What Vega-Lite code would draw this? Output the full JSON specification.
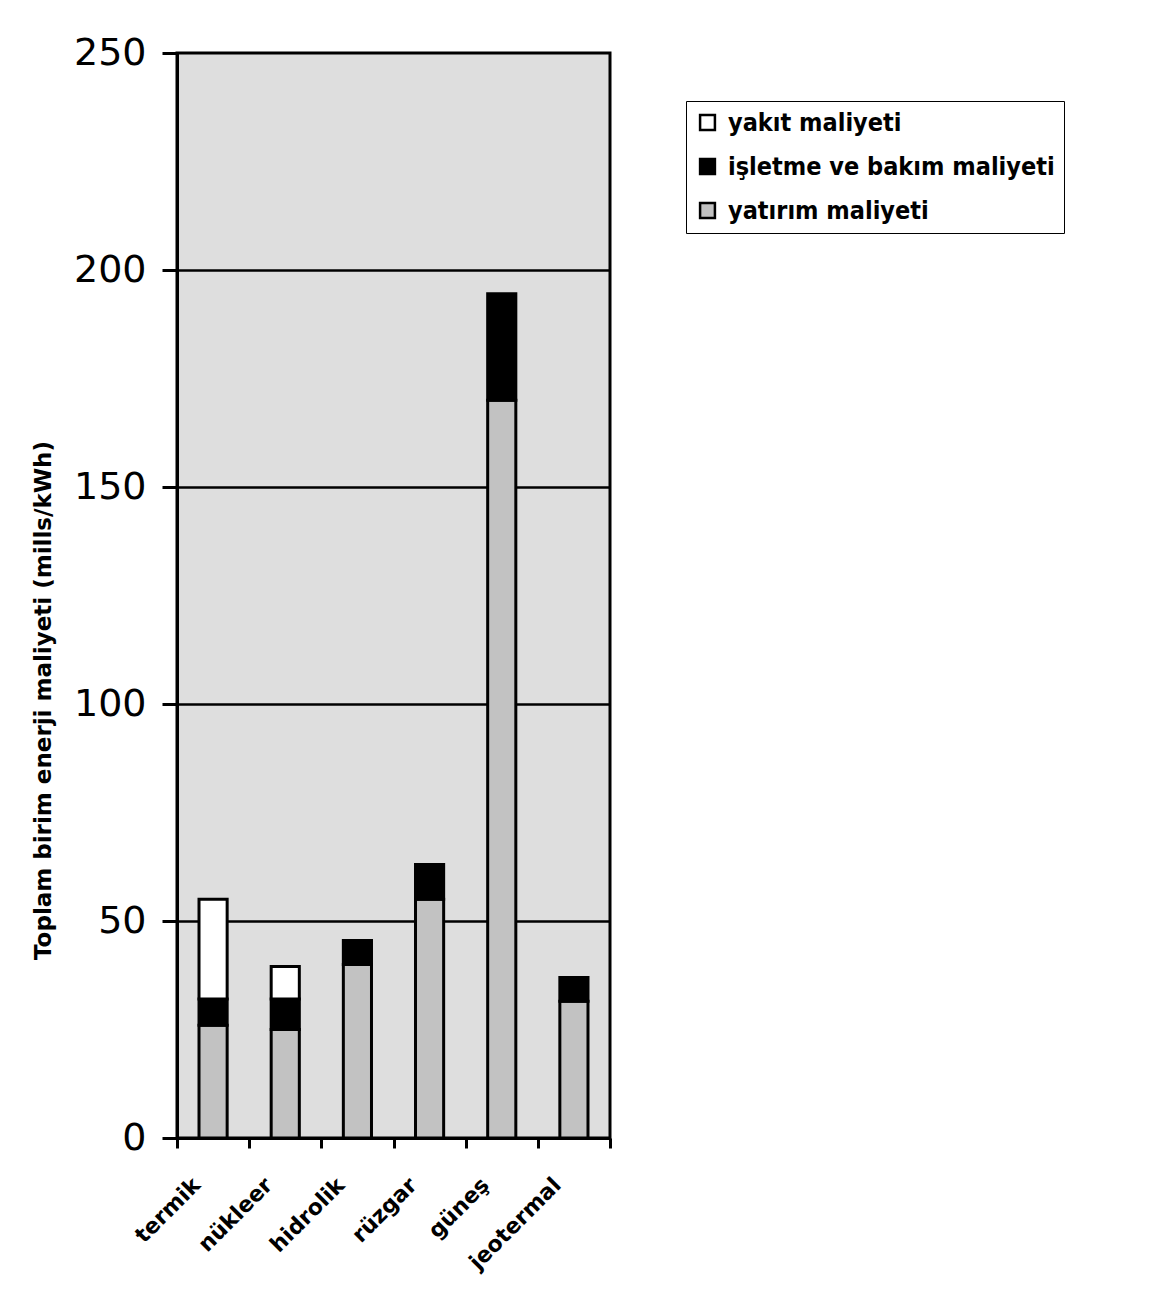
{
  "$schema": "https://vega.github.io/schema/vega-lite/v6.json",
  "autosize": {"type": "none"},
  "padding": {"left": 177, "top": 53, "right": 539, "bottom": 161},
  "width": 433,
  "height": 1085,
  "background": "white",
  "data": {
    "values": [
      {"kaynak": "termik", "kalem": "yatırım maliyeti", "katman": 1, "deger": 26},
      {"kaynak": "termik", "kalem": "işletme ve bakım maliyeti", "katman": 2, "deger": 6},
      {"kaynak": "termik", "kalem": "yakıt maliyeti", "katman": 3, "deger": 23},
      {"kaynak": "nükleer", "kalem": "yatırım maliyeti", "katman": 1, "deger": 25},
      {"kaynak": "nükleer", "kalem": "işletme ve bakım maliyeti", "katman": 2, "deger": 7},
      {"kaynak": "nükleer", "kalem": "yakıt maliyeti", "katman": 3, "deger": 7.5},
      {"kaynak": "hidrolik", "kalem": "yatırım maliyeti", "katman": 1, "deger": 40},
      {"kaynak": "hidrolik", "kalem": "işletme ve bakım maliyeti", "katman": 2, "deger": 5.5},
      {"kaynak": "rüzgar", "kalem": "yatırım maliyeti", "katman": 1, "deger": 55},
      {"kaynak": "rüzgar", "kalem": "işletme ve bakım maliyeti", "katman": 2, "deger": 8},
      {"kaynak": "güneş", "kalem": "yatırım maliyeti", "katman": 1, "deger": 170},
      {"kaynak": "güneş", "kalem": "işletme ve bakım maliyeti", "katman": 2, "deger": 24.5},
      {"kaynak": "jeotermal", "kalem": "yatırım maliyeti", "katman": 1, "deger": 31.5},
      {"kaynak": "jeotermal", "kalem": "işletme ve bakım maliyeti", "katman": 2, "deger": 5.5}
    ]
  },
  "mark": {"type": "bar", "width": {"band": 0.39}, "stroke": "black", "strokeWidth": 3},
  "encoding": {
    "x": {
      "field": "kaynak",
      "type": "nominal",
      "sort": ["termik", "nükleer", "hidrolik", "rüzgar", "güneş", "jeotermal"],
      "scale": {"paddingInner": 0, "paddingOuter": 0},
      "axis": {
        "title": null,
        "tickBand": "extent",
        "domainColor": "black",
        "domainWidth": 3,
        "tickColor": "black",
        "tickWidth": 3,
        "tickSize": 10,
        "labelAngle": -45,
        "labelFont": "DejaVu Sans",
        "labelFontWeight": "bold",
        "labelFontSize": 22,
        "labelColor": "black",
        "labelPadding": 26,
        "labelOffset": -24
      }
    },
    "y": {
      "field": "deger",
      "type": "quantitative",
      "stack": "zero",
      "scale": {"domain": [0, 250], "nice": false},
      "axis": {
        "values": [0, 50, 100, 150, 200, 250],
        "title": "Toplam birim enerji maliyeti (mills/kWh)",
        "titleFont": "DejaVu Sans",
        "titleFontWeight": "bold",
        "titleFontSize": 23,
        "titleColor": "black",
        "titleX": -134,
        "titleY": 647,
        "titleAlign": "center",
        "titleBaseline": "middle",
        "domainColor": "black",
        "domainWidth": 3,
        "tickColor": "black",
        "tickWidth": 3,
        "tickSize": 15,
        "labelFont": "DejaVu Sans",
        "labelFontSize": 38,
        "labelColor": "black",
        "labelPadding": 16,
        "grid": true,
        "gridColor": "black",
        "gridWidth": 2.5,
        "gridOpacity": {"condition": {"test": "datum.value == 0 || datum.value == 250", "value": 0}, "value": 1}
      }
    },
    "color": {
      "field": "kalem",
      "type": "nominal",
      "scale": {
        "domain": ["yakıt maliyeti", "işletme ve bakım maliyeti", "yatırım maliyeti"],
        "range": ["#ffffff", "#000000", "#c2c2c2"]
      },
      "legend": {
        "title": null,
        "orient": "none",
        "legendX": 509,
        "legendY": 48,
        "strokeColor": "black",
        "fillColor": "white",
        "padding": 9,
        "rowPadding": 18,
        "symbolType": "square",
        "symbolSize": 220,
        "symbolStrokeColor": "black",
        "symbolStrokeWidth": 2.5,
        "symbolOpacity": 1,
        "labelFont": "DejaVu Sans Condensed",
        "labelFontWeight": "bold",
        "labelFontSize": 25,
        "labelColor": "black",
        "labelLimit": 400,
        "labelOffset": 8
      }
    },
    "order": {"field": "katman", "type": "quantitative"}
  },
  "config": {
    "view": {"fill": "#dedede", "stroke": "black", "strokeWidth": 3}
  }
}
